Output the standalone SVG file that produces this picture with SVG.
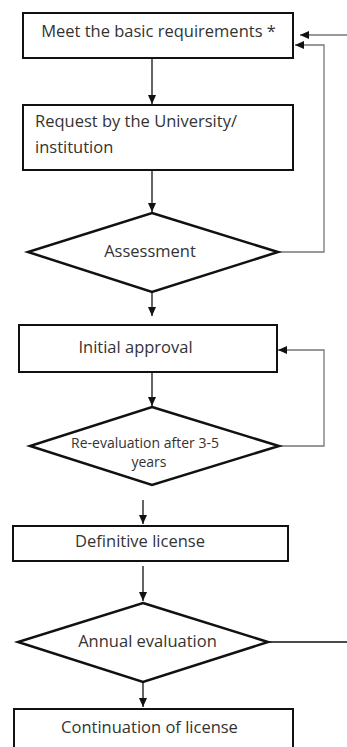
<svg xmlns="http://www.w3.org/2000/svg" width="347" height="747" viewBox="0 0 347 747">
<style>
.box{fill:#fff;stroke:#111;stroke-width:2}
.dia{fill:#fff;stroke:#111;stroke-width:2.5;stroke-linejoin:miter}
.t{font-family:"Open Sans",Lato,sans-serif;font-size:16.5px;fill:#333;text-anchor:middle}
.ts{font-family:"Open Sans",Lato,sans-serif;font-size:14px;fill:#333;text-anchor:middle}
.l{text-anchor:start}
.c{fill:none;stroke:#111;stroke-width:1.3}
.g{fill:none;stroke:#777;stroke-width:1.3}
</style>
<defs>
<marker id="ah" markerWidth="10" markerHeight="10" refX="9" refY="5" orient="auto" markerUnits="userSpaceOnUse">
<path d="M0,1 L9,5 L0,9 Z" fill="#111"/>
</marker>
</defs>
<rect width="347" height="747" fill="#fff"/>
<g id="connectors">
<line class="c" x1="152" y1="58" x2="152" y2="104" marker-end="url(#ah)"/>
<line class="c" x1="152" y1="170" x2="152" y2="212" marker-end="url(#ah)"/>
<line class="c" x1="152" y1="292" x2="152" y2="316" marker-end="url(#ah)"/>
<line class="c" x1="152" y1="372" x2="152" y2="406" marker-end="url(#ah)"/>
<line class="c" x1="143" y1="500" x2="143" y2="524" marker-end="url(#ah)"/>
<line class="c" x1="143" y1="566" x2="143" y2="601" marker-end="url(#ah)"/>
<line class="c" x1="143" y1="682" x2="143" y2="707" marker-end="url(#ah)"/>
<line class="g" x1="347" y1="35" x2="300" y2="35" marker-end="url(#ah)"/>
<polyline class="g" points="279,252 324,252 324,45 295,45" marker-end="url(#ah)"/>
<polyline class="g" points="280,446 324,446 324,350 278,350" marker-end="url(#ah)"/>
<line class="c" x1="268" y1="642" x2="347" y2="642"/>
</g>
<g id="n1">
<rect class="box" x="23" y="13" width="270" height="45"/>
<text class="t" x="158.5" y="37">Meet the basic requirements *</text>
</g>
<g id="n2">
<rect class="box" x="23" y="105" width="270" height="65"/>
<text class="t l" x="35" y="127">Request by the University/</text>
<text class="t l" x="35" y="153">institution</text>
</g>
<g id="n3">
<polygon class="dia" points="152,213 278,252 152,292 28,252"/>
<text class="t" x="150" y="257">Assessment</text>
</g>
<g id="n4">
<rect class="box" x="19" y="325" width="258" height="47"/>
<text class="t" x="135.5" y="353">Initial approval</text>
</g>
<g id="n5">
<polygon class="dia" points="152,407 279,446 152,485 30,446"/>
<text class="ts" x="145" y="448">Re-evaluation after 3-5</text>
<text class="ts" x="149" y="467">years</text>
</g>
<g id="n6">
<rect class="box" x="13" y="526" width="275" height="35"/>
<text class="t" x="140" y="547">Definitive license</text>
</g>
<g id="n7">
<polygon class="dia" points="143,603 268,642 143,682 18,642"/>
<text class="t" x="147.5" y="647">Annual evaluation</text>
</g>
<g id="n8">
<rect class="box" x="14" y="709" width="279" height="50"/>
<text class="t" x="149.5" y="733">Continuation of license</text>
</g>
</svg>
